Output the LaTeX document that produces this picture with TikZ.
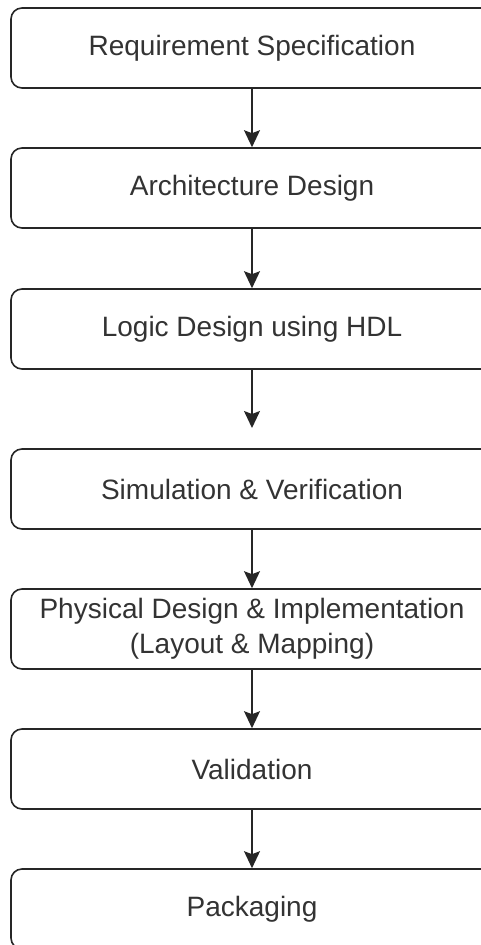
\documentclass[tikz,border=0pt]{standalone}
\usepackage{fontspec}
\setmainfont{Liberation Sans}
\usetikzlibrary{arrows.meta}
\definecolor{ink}{HTML}{262626}
\definecolor{txt}{HTML}{333333}
\begin{document}
\begin{tikzpicture}[x=1pt,y=1pt,
  stagebox/.style={draw=ink, line width=1.6pt, rounded corners=11pt,
    minimum width=482pt, minimum height=80pt, inner sep=0pt,
    font=\fontsize{28}{35}\selectfont, text=txt, align=center},
  flow/.style={draw=ink, line width=1.6pt,
    -{Stealth[length=17pt,width=16pt,inset=3pt]}}]
\useasboundingbox (0,0) rectangle (481,-945);
\clip (0,0) rectangle (481,-945);
\node[stagebox] (b1) at (252,-48)  {Requirement Specification};
\node[stagebox] (b2) at (252,-188) {Architecture Design};
\node[stagebox] (b3) at (252,-329) {Logic Design using HDL};
\node[stagebox] (b4) at (252,-489) {Simulation \& Verification};
\node[stagebox] (b5) at (252,-629) {Physical Design \& Implementation\\(Layout \& Mapping)};
\node[stagebox] (b6) at (252,-769) {Validation};
\node[stagebox] (b7) at (252,-909) {Packaging};
\coordinate (e3) at (252,-428);
\draw[flow] (b1) -- (b2);
\draw[flow] (b2) -- (b3);
\draw[flow] (b3) -- (e3);
\draw[flow] (b4) -- (b5);
\draw[flow] (b5) -- (b6);
\draw[flow] (b6) -- (b7);
\end{tikzpicture}
\end{document}
